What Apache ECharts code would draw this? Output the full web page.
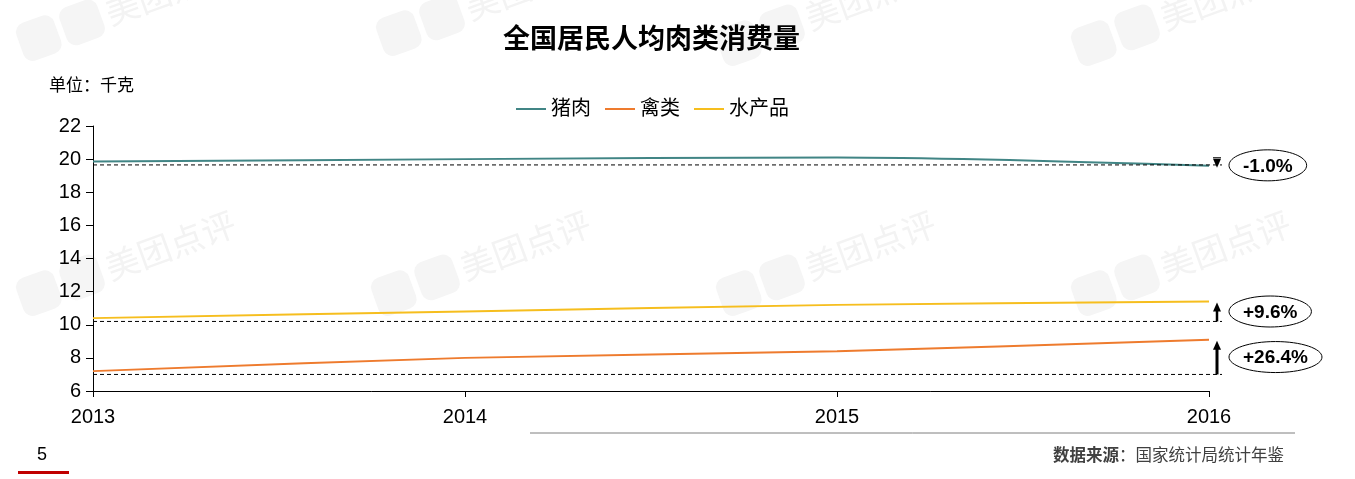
<!DOCTYPE html>
<html>
<head>
<meta charset="utf-8">
<script src="https://cdn.jsdelivr.net/npm/echarts@6/dist/echarts.min.js"></script>
<style>
html,body{margin:0;padding:0;background:#fff;}
#main{width:1355px;height:479px;}
</style>
</head>
<body>
<div id="main"></div>
<script>
// ---- data ----
const years = ['2013', '2014', '2015', '2016'];
const seriesNames = ['猪肉', '禽类', '水产品'];
const pork = [19.85, 20.0, 20.1, 19.6];
const poultry = [7.2, 8.0, 8.4, 9.1];
const aquatic = [10.4, 10.8, 11.2, 11.4];
// change annotations: reference (dashed) level, 2016 level, label
const changeBase = [19.65, 7.0, 10.2];
const changeEnd = [19.6, 9.1, 11.4];
const changeLabels = ['-1.0%', '+26.4%', '+9.6%'];
const yTicks = [6, 8, 10, 12, 14, 16, 18, 20, 22];

const FONT = 'Arial, "Liberation Sans", "Noto Sans CJK SC", sans-serif';
const colors = ['#418585', '#EE7B2E', '#F6BE1E'];

const measureCtx = document.createElement('canvas').getContext('2d');
function textW(t, size) {
  measureCtx.font = 'bold ' + size + 'px Arial, "Liberation Sans", sans-serif';
  return measureCtx.measureText(t).width;
}

const chart = echarts.init(document.getElementById('main'), null, {renderer: 'canvas'});

function renderChange(params, api) {
  const base = api.value(1);
  const end = api.value(2);
  const idx = params.dataIndex;
  const label = changeLabels[idx];
  const p0 = api.coord([0, base]);
  const p1 = api.coord([years.length - 1, base]);
  const pe = api.coord([years.length - 1, end]);
  const ax = p1[0] + 8;
  const children = [];
  children.push({
    type: 'line',
    shape: {x1: p0[0], y1: p0[1], x2: p1[0] + 13, y2: p1[1]},
    style: {stroke: '#000', lineWidth: 1, lineDash: [4, 3]}
  });
  if (end < base) {
    const ty = pe[1];
    children.push({
      type: 'polygon',
      shape: {points: [[ax - 4, ty - 7], [ax + 4, ty - 7], [ax, ty + 2]]},
      style: {fill: '#000'}
    });
    children.push({
      type: 'line',
      shape: {x1: ax - 4, y1: ty - 8, x2: ax + 4, y2: ty - 8},
      style: {stroke: '#000', lineWidth: 1}
    });
  } else {
    const ty = pe[1] + 1;
    const by = p1[1];
    const thick = (by - ty) > 25 ? 3 : 2.5;
    children.push({
      type: 'line',
      shape: {x1: ax, y1: by, x2: ax, y2: ty + 8},
      style: {stroke: '#000', lineWidth: thick}
    });
    children.push({
      type: 'polygon',
      shape: {points: [[ax - 4, ty + 9], [ax + 4, ty + 9], [ax, ty]]},
      style: {fill: '#000'}
    });
  }
  const tw = textW(label, 19);
  const rx = tw / 2 + 14;
  const cx = p1[0] + 20 + rx;
  const cy = (p1[1] + pe[1]) / 2;
  children.push({
    type: 'ellipse',
    shape: {cx: cx, cy: cy, rx: rx, ry: 15.5},
    style: {fill: '#fff', stroke: '#000', lineWidth: 1}
  });
  children.push({
    type: 'text',
    style: {
      x: cx, y: cy + 1, text: label, align: 'center', verticalAlign: 'middle',
      fill: '#000', font: 'bold 19px Arial, "Liberation Sans", sans-serif'
    }
  });
  return {type: 'group', children: children};
}

// faint watermarks
const wm = [];
const wmPos = [[20, 45], [380, 40], [1075, 50], [20, 300], [375, 300], [720, 300], [1075, 300], [720, 50]];
wmPos.forEach(function (p) {
  wm.push({
    type: 'group', x: p[0], y: p[1], rotation: Math.PI / 9, z: -10, silent: true,
    children: [
      {type: 'rect', shape: {x: 0, y: -20, width: 40, height: 40, r: 10}, style: {fill: '#f5f5f5'}},
      {type: 'rect', shape: {x: 46, y: -20, width: 40, height: 40, r: 10}, style: {fill: '#f5f5f5'}},
      {type: 'text', style: {x: 92, y: 0, text: '美团点评', verticalAlign: 'middle', fill: '#f3f3f3', font: '34px "Noto Sans CJK SC", sans-serif'}}
    ]
  });
});

const option = {
  backgroundColor: '#fff',
  animation: false,
  color: colors,
  textStyle: {fontFamily: FONT},
  title: {
    text: '全国居民人均肉类消费量',
    left: 503, top: 27, padding: 0,
    textStyle: {fontSize: 27, fontWeight: 'bold', color: '#000', fontFamily: FONT}
  },
  legend: {
    left: 511, top: 94,
    icon: 'rect', itemWidth: 30, itemHeight: 2, itemGap: 14,
    data: seriesNames,
    textStyle: {fontSize: 20, color: '#000', fontFamily: FONT, padding: [0, 0, 0, 0]}
  },
  grid: {left: 93, right: 146, top: 126, bottom: 88, containLabel: false},
  xAxis: {
    type: 'category',
    data: years,
    boundaryGap: false,
    axisLine: {show: true, lineStyle: {color: '#000', width: 1}},
    axisTick: {show: true, length: 6, lineStyle: {color: '#000'}},
    axisLabel: {fontSize: 20, color: '#000', margin: 16, fontFamily: FONT},
    splitLine: {show: false}
  },
  yAxis: {
    type: 'value',
    min: yTicks[0], max: yTicks[yTicks.length - 1], interval: 2,
    axisLine: {show: true, lineStyle: {color: '#000', width: 1}},
    axisTick: {show: true, length: 7, lineStyle: {color: '#000'}},
    axisLabel: {fontSize: 20, color: '#000', margin: 12, fontFamily: FONT},
    splitLine: {show: false}
  },
  series: [
    {name: seriesNames[0], type: 'line', data: pork, symbol: 'none', smooth: 0.3, lineStyle: {width: 2, color: colors[0]}, z: 3},
    {name: seriesNames[1], type: 'line', data: poultry, symbol: 'none', smooth: 0.3, lineStyle: {width: 2, color: colors[1]}, z: 3},
    {name: seriesNames[2], type: 'line', data: aquatic, symbol: 'none', smooth: 0.3, lineStyle: {width: 2, color: colors[2]}, z: 3},
    {
      name: 'change', type: 'custom', renderItem: renderChange, z: 4, silent: true,
      clip: false,
      encode: {x: 0, y: 1},
      data: changeBase.map(function (b, i) { return [years.length - 1, b, changeEnd[i]]; })
    }
  ],
  graphic: wm.concat([
    {type: 'text', left: 49, top: 78, z: 10, style: {text: '单位：千克', fill: '#000', font: '17px ' + FONT}},
    {type: 'line', z: 10, shape: {x1: 530, y1: 433, x2: 1295, y2: 433}, style: {stroke: '#7f7f7f', lineWidth: 1}},
    {type: 'text', left: 37, top: 446, z: 10, style: {text: '5', fill: '#000', font: '18px ' + FONT}},
    {type: 'line', z: 10, shape: {x1: 18, y1: 472.5, x2: 69, y2: 472.5}, style: {stroke: '#c00000', lineWidth: 3}},
    {type: 'text', right: 71, top: 448, z: 10, style: {
      text: '{b|数据来源}{n|：国家统计局统计年鉴}',
      rich: {
        b: {fontSize: 16.5, fontWeight: 'bold', fill: '#404040', fontFamily: FONT},
        n: {fontSize: 16.5, fill: '#404040', fontFamily: FONT}
      }
    }}
  ])
};
chart.setOption(option);
</script>
</body>
</html>
